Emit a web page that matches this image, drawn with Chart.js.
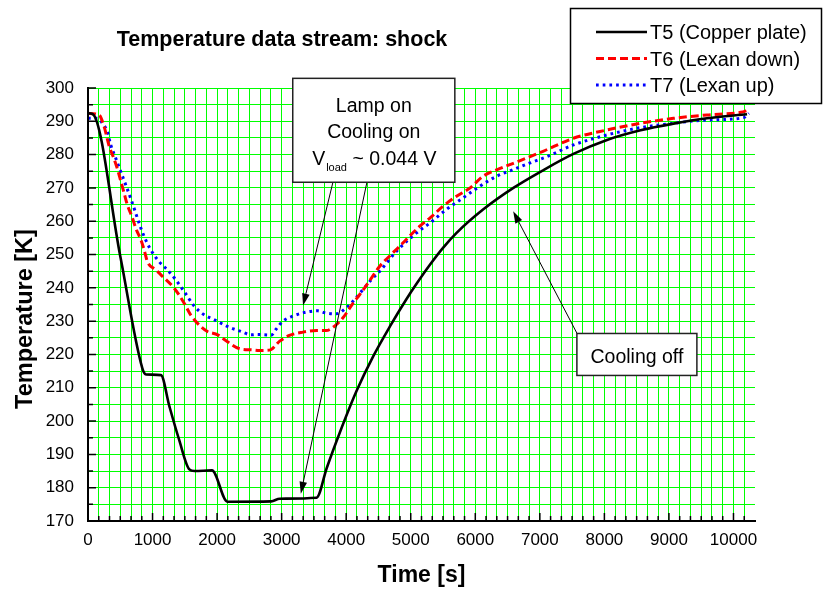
<!DOCTYPE html>
<html>
<head>
<meta charset="utf-8">
<script src="https://cdn.jsdelivr.net/npm/chart.js@4.4.0/dist/chart.umd.min.js"></script>
<style>
html,body{margin:0;padding:0;background:#fff;}
#wrap{width:823px;height:590px;position:relative;}
</style>
</head>
<body>
<div id="wrap"><canvas id="c" width="823" height="590"></canvas></div>
<script>
// ---------- data ----------
const chartTitle = 'Temperature data stream: shock';
const xTitle = 'Time [s]';
const yTitle = 'Temperature [K]';
const seriesNames = ['T5 (Copper plate)', 'T6 (Lexan down)', 'T7 (Lexan up)'];

const xMin = 0, xMax = 10333.33, xMajor = 1000, xMinorPerMajor = 6;
const yMin = 170, yMax = 300, yMajor = 10, yMinorPerMajor = 2;

const t5Time = [0, 70, 500, 840, 900, 1130, 1260, 1410, 1570, 1650, 1920, 2160, 2840, 2970, 3540, 3700, 3900, 4160, 4420, 4680, 4930, 5100, 5300, 5500, 5710, 6120, 6590, 7050, 7520, 8040, 8560, 9070, 9590, 10210];
const t5Temp = [292.4, 292.2, 249.5, 216, 214, 213.8, 204.5, 194.5, 185.5, 185, 185.2, 175.8, 175.9, 176.7, 177, 186, 196.5, 209, 219.5, 228.5, 236.5, 241.5, 247, 252, 256.5, 263.5, 270, 275.3, 280.2, 284.4, 287.3, 289.3, 290.9, 292.1];

const t6Time = [0, 170, 250, 330, 400, 460, 510, 560, 610, 690, 740, 820, 870, 920, 1050, 1130, 1335, 1490, 1590, 1720, 1850, 2010, 2140, 2370, 2530, 2660, 2810, 2970, 3120, 3330, 3540, 3690, 3820, 3950, 4110, 4210, 4340, 4520, 4670, 4830, 4980, 5140, 5300, 5500, 5710, 5920, 6120, 6330, 6590, 6850, 7050, 7520, 8040, 8560, 9070, 9590, 10110, 10240];
const t6Temp = [292.4, 291.9, 288.4, 282.4, 278.9, 275.4, 271.9, 268.4, 264.9, 260.9, 257.9, 254.4, 251.4, 247.9, 245.4, 243.9, 239.9, 235.4, 231.9, 228.9, 226.9, 225.9, 224.1, 221.6, 221.4, 221.2, 221.3, 224, 225.7, 226.7, 227.2, 227.2, 228.5, 231, 235.5, 238, 241.5, 246.5, 249.5, 252.5, 255.5, 258.5, 261, 264.5, 267.5, 270, 273.5, 275.4, 277.4, 279.4, 281, 284.9, 287.4, 289.4, 290.9, 291.9, 292.7, 293.4];

const t7Time = [0, 145, 223, 300, 352, 430, 507, 585, 688, 792, 870, 973, 1100, 1230, 1360, 1490, 1650, 1800, 1960, 2160, 2370, 2530, 2600, 2840, 2910, 3020, 3170, 3380, 3560, 3670, 3850, 4000, 4130, 4260, 4390, 4520, 4780, 5090, 5300, 5550, 5810, 6070, 6330, 6590, 6850, 7100, 7520, 8040, 8560, 9070, 9590, 10160, 10240];
const t7Temp = [290.9, 290.9, 289.4, 286.9, 282.9, 278.9, 274.9, 270.9, 265.4, 259.4, 255.4, 251.4, 247.9, 245.4, 242.4, 238.9, 234.4, 231.9, 230.4, 228.4, 226.9, 225.9, 226, 225.8, 227.5, 230, 231.5, 232.7, 233.1, 232.5, 232.2, 234, 236.5, 239.5, 242.5, 245, 251, 256.5, 259.5, 263.5, 267, 270.5, 273.5, 275.5, 277.5, 279.3, 282.9, 285.9, 288.1, 289.4, 290.4, 291.1, 292.4];

// annotation texts
const noteOnLines = ['Lamp on', 'Cooling on'];
const noteVload = ['V', 'load', ' ~ 0.044 V'];
const noteOff = 'Cooling off';

// ---------- chart ----------
const FONT = '"Liberation Sans", Arial, Helvetica, sans-serif';
Chart.defaults.font.family = FONT;
Chart.defaults.color = '#000';

const toXY = (xs, ys) => xs.map((x, i) => ({x: x, y: ys[i]}));

// build evenly spaced tick lists (major + minor) using integer indices
function buildTicks(min, max, major, perMajor) {
  const step = major / perMajor;
  const out = [];
  const k0 = Math.ceil(min / step - 1e-9), k1 = Math.floor(max / step + 1e-9);
  for (let k = k0; k <= k1; k++) {
    out.push({value: k * step, major: k % perMajor === 0, label: k % perMajor === 0 ? String(Math.round(k * step)) : ''});
  }
  return out;
}

const decor = {
  id: 'decor',
  afterDraw(chart) {
    const ctx = chart.ctx, a = chart.chartArea;
    const xs = chart.scales.x, ys = chart.scales.y;
    const P = (t, T) => [xs.getPixelForValue(t), ys.getPixelForValue(T)];
    ctx.save();
    // tick marks (inward)
    ctx.strokeStyle = '#000';
    ctx.lineWidth = 1.5;
    ctx.beginPath();
    xs.ticks.forEach(tk => {
      const px = xs.getPixelForValue(tk.value);
      const len = tk.major ? 8 : 5;
      ctx.moveTo(px, a.bottom); ctx.lineTo(px, a.bottom - len);
    });
    ys.ticks.forEach(tk => {
      const py = ys.getPixelForValue(tk.value);
      const len = tk.major ? 8 : 5;
      ctx.moveTo(a.left, py); ctx.lineTo(a.left + len, py);
    });
    ctx.stroke();
    // axis lines
    ctx.lineWidth = 2;
    ctx.beginPath();
    ctx.moveTo(a.left, a.top - 1);
    ctx.lineTo(a.left, a.bottom);
    ctx.lineTo(a.right + 1, a.bottom);
    ctx.stroke();

    // arrows
    const arrow = (t0, T0, t1, T1) => {
      const [x0, y0] = P(t0, T0), [x1, y1] = P(t1, T1);
      const ang = Math.atan2(y1 - y0, x1 - x0);
      const L = 12, W = 3.8;
      const bx = x1 - L * Math.cos(ang), by = y1 - L * Math.sin(ang);
      ctx.strokeStyle = '#000'; ctx.lineWidth = 1;
      ctx.beginPath(); ctx.moveTo(x0, y0); ctx.lineTo(bx, by); ctx.stroke();
      ctx.fillStyle = '#000';
      ctx.beginPath();
      ctx.moveTo(x1, y1);
      ctx.lineTo(bx + W * Math.sin(ang), by - W * Math.cos(ang));
      ctx.lineTo(bx - W * Math.sin(ang), by + W * Math.cos(ang));
      ctx.closePath(); ctx.fill();
    };
    arrow(3793, 271.6, 3332, 234.7);
    arrow(4320, 271.6, 3297, 178.2);
    arrow(7574, 226.4, 6587, 263.0);

    // annotation boxes
    const box = (t0, T0, t1, T1) => {
      const [x0, y0] = P(t0, T0), [x1, y1] = P(t1, T1);
      ctx.fillStyle = '#fff';
      ctx.fillRect(x0, y0, x1 - x0, y1 - y0);
      ctx.strokeStyle = '#222'; ctx.lineWidth = 1.5;
      ctx.strokeRect(x0, y0, x1 - x0, y1 - y0);
      ctx.fillStyle = '#000';
      return [x0, y0, x1, y1];
    };
    const b1 = box(3172, 302.9, 5683, 271.7);
    const cx1 = (b1[0] + b1[2]) / 2;
    ctx.fillStyle = '#000';
    ctx.textBaseline = 'alphabetic';
    ctx.textAlign = 'center';
    ctx.font = '19.5px ' + FONT;
    ctx.fillText(noteOnLines[0], cx1, b1[1] + 33.2);
    ctx.fillText(noteOnLines[1], cx1, b1[1] + 59.8);
    // V_load line
    const fBig = '19.5px ' + FONT, fSmall = '11px ' + FONT;
    ctx.font = fBig; const wV = ctx.measureText(noteVload[0]).width;
    const wR = ctx.measureText(noteVload[2]).width;
    ctx.font = fSmall; const wS = ctx.measureText(noteVload[1]).width;
    let sx = cx1 - (wV + wS + wR) / 2;
    const base3 = b1[1] + 86.5;
    ctx.textAlign = 'left';
    ctx.font = fBig; ctx.fillText(noteVload[0], sx, base3); sx += wV + 1;
    ctx.font = fSmall; ctx.fillText(noteVload[1], sx, base3 + 6); sx += wS;
    ctx.font = fBig; ctx.fillText(noteVload[2], sx, base3);

    const b2 = box(7574, 226.3, 9433, 213.7);
    ctx.fillStyle = '#000';
    ctx.textAlign = 'center';
    ctx.font = '19.5px ' + FONT;
    ctx.fillText(noteOff, (b2[0] + b2[2]) / 2, b2[1] + 29.5);

    // legend
    ctx.fillStyle = '#fff';
    ctx.fillRect(570.5, 8.5, 251, 95);
    ctx.strokeStyle = '#000'; ctx.lineWidth = 1.5;
    ctx.strokeRect(570.5, 8.5, 251, 95);
    const rows = [32, 58.5, 85];
    chart.data.datasets.forEach((ds, i) => {
      ctx.strokeStyle = ds.borderColor;
      ctx.lineWidth = ds.borderWidth;
      ctx.setLineDash(ds.borderDash || []);
      ctx.beginPath(); ctx.moveTo(596, rows[i]); ctx.lineTo(647, rows[i]); ctx.stroke();
      ctx.setLineDash([]);
      ctx.fillStyle = '#000';
      ctx.textAlign = 'left';
      ctx.font = '20px ' + FONT;
      ctx.fillText(ds.label, 650, rows[i] + 7.3);
    });

    // chart title
    ctx.fillStyle = '#000';
    ctx.font = 'bold 21.5px ' + FONT;
    ctx.textAlign = 'center';
    ctx.fillText(chartTitle, 282, 46);

    // y axis title (rotated)
    ctx.save();
    ctx.translate(26, 319);
    ctx.rotate(-Math.PI / 2);
    ctx.font = 'bold 23.5px ' + FONT;
    ctx.textAlign = 'center';
    ctx.textBaseline = 'middle';
    ctx.fillText(yTitle, 0, 0);
    ctx.restore();
    ctx.restore();
  }
};

new Chart(document.getElementById('c').getContext('2d'), {
  type: 'line',
  data: {
    datasets: [
      {label: seriesNames[0], data: toXY(t5Time, t5Temp), borderColor: '#000000', borderWidth: 2.6,
       pointRadius: 0, fill: false, cubicInterpolationMode: 'monotone'},
      {label: seriesNames[1], data: toXY(t6Time, t6Temp), borderColor: '#ff0000', borderWidth: 3,
       borderDash: [8, 4], pointRadius: 0, fill: false, cubicInterpolationMode: 'monotone'},
      {label: seriesNames[2], data: toXY(t7Time, t7Temp), borderColor: '#0000ff', borderWidth: 3,
       borderDash: [2.7, 4], pointRadius: 0, fill: false, cubicInterpolationMode: 'monotone'}
    ]
  },
  options: {
    responsive: false,
    animation: false,
    devicePixelRatio: 1,
    layout: {padding: {left: 0, top: 88, right: 68, bottom: 0}},
    plugins: {legend: {display: false}, title: {display: false}, tooltip: {enabled: false}},
    scales: {
      x: {
        type: 'linear', min: xMin, max: xMax,
        afterFit(s) { s.height = 69; },
        afterBuildTicks(s) { s.ticks = buildTicks(xMin, xMax, xMajor, xMinorPerMajor); },
        border: {display: false},
        grid: {color: '#00ff00', lineWidth: 1, drawTicks: false},
        ticks: {autoSkip: false, maxRotation: 0, minRotation: 0, padding: 9,
                font: {size: 17}, color: '#000',
                callback: function (v, i, ticks) { return ticks[i].label; }},
        title: {display: true, text: xTitle, font: {size: 23, weight: 'bold'}, color: '#000',
                padding: {top: 0, bottom: 1}}
      },
      y: {
        type: 'linear', min: yMin, max: yMax,
        afterFit(s) { s.width = 88; },
        afterBuildTicks(s) { s.ticks = buildTicks(yMin, yMax, yMajor, yMinorPerMajor); },
        border: {display: false},
        grid: {color: '#00ff00', lineWidth: 1, drawTicks: false},
        ticks: {autoSkip: false, padding: 14,
                font: {size: 17}, color: '#000',
                callback: function (v, i, ticks) { return ticks[i].label; }},
        title: {display: false}
      }
    }
  },
  plugins: [decor]
});
</script>
</body>
</html>
